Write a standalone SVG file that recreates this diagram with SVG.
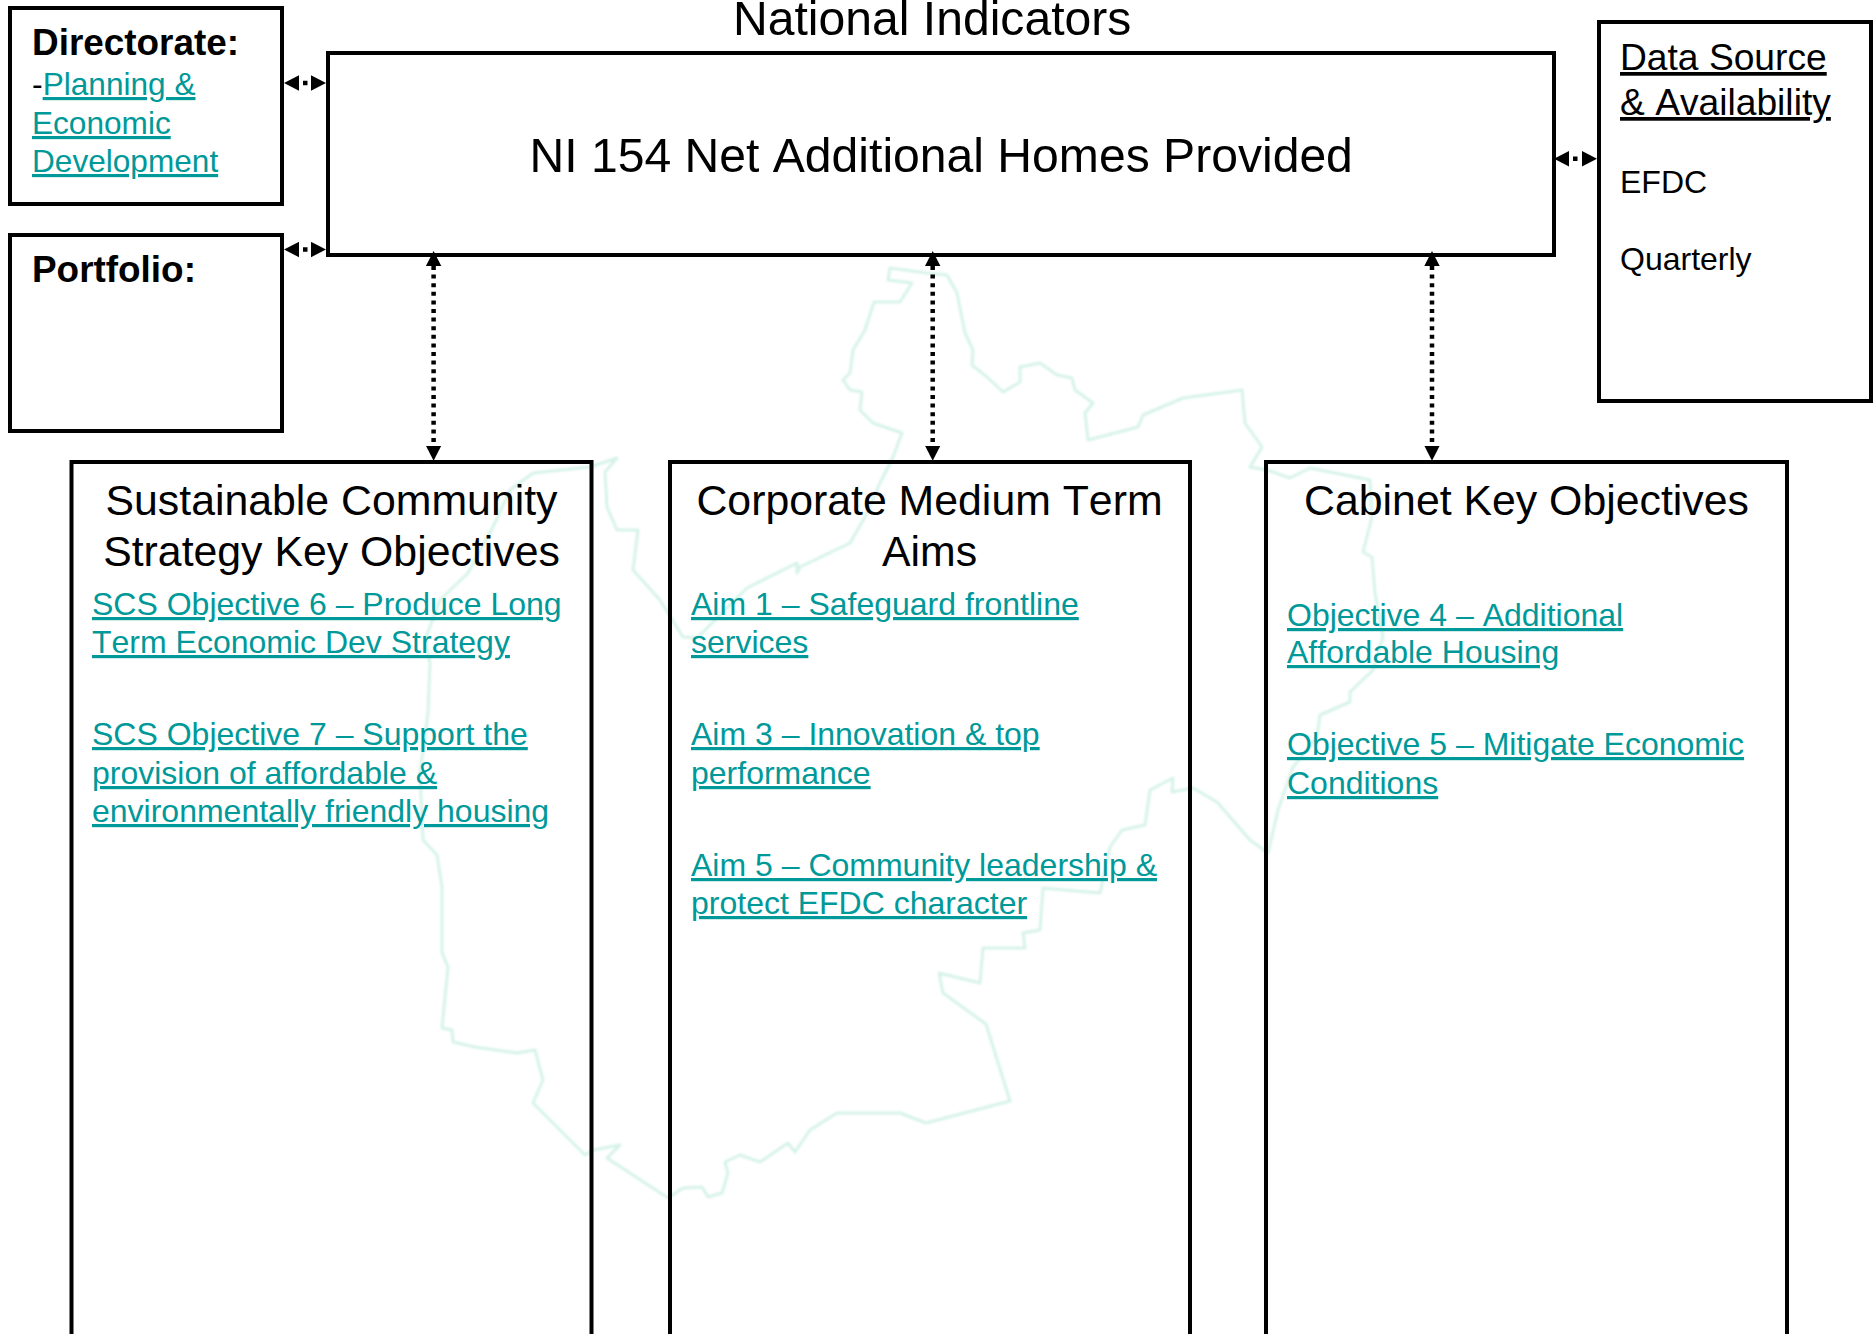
<svg xmlns="http://www.w3.org/2000/svg" width="1874" height="1334" viewBox="0 0 1874 1334">
<style>
text{font-family:"Liberation Sans",Arial,sans-serif;fill:#000;font-kerning:none}
.box{fill:none;stroke:#000;stroke-width:4}
.big{font-size:48.1px}
.head{font-size:42.8px;text-anchor:middle}
.bold{font-size:36.9px;font-weight:700}
.link{font-size:32px;fill:#009999;text-decoration:underline;text-decoration-skip-ink:none;text-decoration-thickness:2.6px}
.side{font-size:31.6px}
.plain{font-size:32px}
.src{font-size:37.2px;text-decoration:underline;text-decoration-skip-ink:none;text-decoration-thickness:2.8px}
.dots{stroke:#000;stroke-width:4.5;stroke-dasharray:4 4.6;fill:none;marker-start:url(#tip);marker-end:url(#tip)}
.short{stroke-dasharray:0 4 4.5 4}
.map{fill:none;stroke:#d6f3e8;stroke-width:3;stroke-linejoin:round}
</style>
<defs>
<marker id="tip" markerUnits="userSpaceOnUse" markerWidth="16" markerHeight="16" refX="0" refY="8" orient="auto-start-reverse" viewBox="0 0 16 16"><path d="M0 0.3 L15 8 L0 15.7 Z" fill="#000"/></marker>
<filter id="soft" x="-5%" y="-5%" width="110%" height="110%"><feGaussianBlur stdDeviation="0.8"/></filter>
</defs>
<rect width="1874" height="1334" fill="#fff"/>
<path class="map" filter="url(#soft)" d="M890 268 L888 280 L912 283 L900 302 L874 302 L865 330 L853 350 L850 373 L843 380 L850 390 L862 392 L860 410 L873 423 L902 433 L893 457 L880 483 L865 517 L850 543 L800 567 L797 573 L797 563 L747 588 L697 638 L683 637 L660 600 L633 570 L638 530 L617 530 L607 507 L605 472 L617 458 L590 467 L533 473 L510 490 L493 527 L468 573 L440 600 L425 640 L430 663 L428 713 L420 773 L423 840 L437 855 L442 887 L442 953 L448 967 L442 1028 L452 1030 L453 1042 L475 1047 L517 1053 L535 1050 L543 1080 L533 1103 L585 1155 L593 1150 L620 1145 L607 1158 L668 1198 L683 1188 L702 1187 L708 1197 L722 1193 L728 1173 L725 1162 L740 1155 L760 1162 L788 1143 L795 1152 L810 1130 L837 1113 L900 1113 L926 1123 L1010 1101 L986 1024 L943 993 L939 973 L980 983 L983 948 L1025 948 L1023 933 L1040 930 L1043 888 L1100 893 L1110 847 L1122 830 L1145 825 L1150 790 L1173 778 L1172 792 L1193 788 L1217 802 L1250 840 L1268 853 L1278 810 L1293 767 L1317 737 L1320 715 L1350 702 L1350 692 L1373 670 L1383 637 L1375 593 L1372 557 L1363 552 L1372 517 L1370 480 L1310 468 L1290 478 L1267 470 L1250 467 L1262 447 L1245 423 L1242 390 L1183 398 L1143 415 L1138 427 L1088 440 L1085 413 L1093 403 L1075 390 L1072 378 L1057 375 L1040 363 L1020 367 L1020 382 L1003 392 L987 377 L972 365 L973 350 L965 333 L957 293 L947 275 L927 273 Z"/>
<g id="title"><text class="big" x="733" y="35">National Indicators</text></g>
<g id="directorate">
<rect class="box" x="10" y="8" width="272" height="196"/>
<text class="bold" x="32" y="55">Directorate:</text>
<text class="plain side" x="32" y="95">-<tspan class="link side">Planning &amp;</tspan></text>
<text class="link side" x="32" y="134">Economic</text>
<text class="link side" x="32" y="172">Development</text>
</g>
<g id="portfolio">
<rect class="box" x="10" y="235" width="272" height="196"/>
<text class="bold" x="32" y="282">Portfolio:</text>
</g>
<g id="indicator">
<rect class="box" x="328" y="53" width="1226" height="202"/>
<text class="big" x="529.5" y="172">NI 154 Net Additional Homes Provided</text>
</g>
<g id="data-source">
<rect class="box" x="1599" y="22" width="272" height="379"/>
<text class="src" x="1620" y="70">Data Source</text>
<text class="src" x="1620" y="115">&amp; Availability</text>
<text class="plain" x="1620" y="193">EFDC</text>
<text class="plain" x="1620" y="270">Quarterly</text>
</g>
<g id="scs">
<rect class="box" x="71.5" y="462" width="520" height="900"/>
<text class="head" x="331.5" y="515">Sustainable Community</text>
<text class="head" x="331.5" y="566">Strategy Key Objectives</text>
<text class="link" x="92" y="615">SCS Objective 6 – Produce Long</text>
<text class="link" x="92" y="653">Term Economic Dev Strategy</text>
<text class="link" x="92" y="745">SCS Objective 7 – Support the</text>
<text class="link" x="92" y="784">provision of affordable &amp;</text>
<text class="link" x="92" y="822">environmentally friendly housing</text>
</g>
<g id="corporate">
<rect class="box" x="670" y="462" width="520" height="900"/>
<text class="head" x="929.5" y="515">Corporate Medium Term</text>
<text class="head" x="929.5" y="566">Aims</text>
<text class="link" x="691" y="615">Aim 1 – Safeguard frontline</text>
<text class="link" x="691" y="653">services</text>
<text class="link" x="691" y="745">Aim 3 – Innovation &amp; top</text>
<text class="link" x="691" y="784">performance</text>
<text class="link" x="691" y="876">Aim 5 – Community leadership &amp;</text>
<text class="link" x="691" y="914">protect EFDC character</text>
</g>
<g id="cabinet">
<rect class="box" x="1266" y="462" width="521" height="900"/>
<text class="head" x="1526.5" y="515">Cabinet Key Objectives</text>
<text class="link" x="1287" y="626">Objective 4 – Additional</text>
<text class="link" x="1287" y="663">Affordable Housing</text>
<text class="link" x="1287" y="755">Objective 5 – Mitigate Economic</text>
<text class="link" x="1287" y="794">Conditions</text>
</g>
<g id="connectors">
<line class="dots short" x1="299" y1="83" x2="311" y2="83"/>
<line class="dots short" x1="299" y1="249.5" x2="311" y2="249.5"/>
<line class="dots short" x1="1569" y1="158.7" x2="1582" y2="158.7"/>
<line class="dots" x1="433.6" y1="266" x2="433.6" y2="445.7"/>
<line class="dots" x1="932.7" y1="266" x2="932.7" y2="445.7"/>
<line class="dots" x1="1432" y1="266" x2="1432" y2="445.7"/>
</g>
</svg>
